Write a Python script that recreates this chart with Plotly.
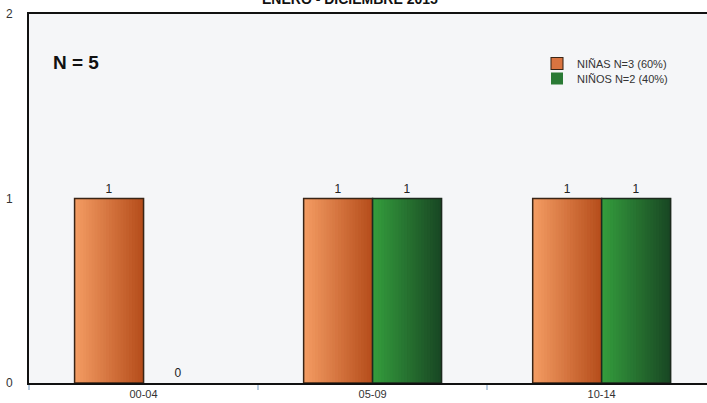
import plotly.graph_objects as go

categories = ["00-04", "05-09", "10-14"]
ninas = [1, 1, 1]
ninos = [0, 1, 1]
series_names = ["NIÑAS N=3 (60%)", "NIÑOS N=2 (40%)"]
title_text = "ENERO - DICIEMBRE 2015"
total_label = "N = 5"
y_ticks = [0, 1, 2]

FONT = "Liberation Sans, Arial, sans-serif"
BAR_W = 0.301
N_SLICES = 24

styles = [
    dict(values=ninas, name=series_names[0], offset=-BAR_W, legend="legend",
         left=(243, 155, 98), right=(182, 78, 28), mid="#DA7440", edge="#3a2516"),
    dict(values=ninos, name=series_names[1], offset=0.0, legend="legend2",
         left=(52, 156, 60), right=(25, 72, 36), mid="#2A7A35", edge="#1c2a1e"),
]

def lerp(a, b, t):
    return "rgb(%d,%d,%d)" % tuple(round(a[k] + (b[k] - a[k]) * t) for k in range(3))

fig = go.Figure()
for s in styles:
    vals = s["values"]
    lw = [1.5 if v > 0 else 0 for v in vals]
    fig.add_trace(go.Bar(
        x=categories, y=vals, name=s["name"], offset=s["offset"], width=BAR_W,
        marker=dict(color=s["mid"], line=dict(color=s["edge"], width=[w * 0.7 for w in lw])),
        hoverinfo="skip", showlegend=True, legend=s["legend"],
    ))
    step = BAR_W / N_SLICES
    for i in range(N_SLICES):
        t = i / (N_SLICES - 1)
        fig.add_trace(go.Bar(
            x=categories, y=vals, offset=s["offset"] + i * step,
            width=BAR_W - i * step,
            marker=dict(color=lerp(s["left"], s["right"], t), line=dict(width=0)),
            showlegend=False, hoverinfo="skip",
        ))
    fig.add_trace(go.Bar(
        x=categories, y=vals, offset=s["offset"], width=BAR_W,
        marker=dict(color="rgba(0,0,0,0)", line=dict(color=s["edge"], width=lw)),
        text=[str(v) for v in vals], textposition="outside",
        textfont=dict(family=FONT, size=12, color="#222"),
        cliponaxis=False, showlegend=False, name=s["name"],
    ))

legend_common = dict(xanchor="left", yanchor="top", bgcolor="rgba(0,0,0,0)",
                     font=dict(family=FONT, size=11, color="#333"))

fig.update_layout(
    width=707, height=403,
    margin=dict(l=29, r=0, t=14, b=20, autoexpand=False),
    barmode="overlay",
    paper_bgcolor="white",
    plot_bgcolor="#F5F6F8",
    font=dict(family=FONT, size=11, color="#333"),
    showlegend=True,
    legend=dict(x=(537 - 29) / 678, y=(383 - 49) / 369, **legend_common),
    legend2=dict(x=(537 - 29) / 678, y=(383 - 64) / 369, **legend_common),
    xaxis=dict(
        type="category", categoryorder="array", categoryarray=categories,
        range=[-0.5, 2.46], showgrid=False, zeroline=False,
        showline=True, mirror=True, linecolor="#111", linewidth=2,
        ticks="outside", tickson="boundaries", ticklen=5, tickcolor="#B8CCE0", tickwidth=1.5,
        tickfont=dict(family=FONT, size=11, color="#333"),
    ),
    yaxis=dict(
        range=[0, 2], tickvals=y_ticks, showgrid=False, zeroline=False,
        showline=True, linecolor="#111", linewidth=2, ticks="",
        ticklabelstandoff=12, tickfont=dict(family=FONT, size=12, color="#333"),
    ),
    annotations=[
        dict(text="<b>" + title_text + "</b>", xref="paper", yref="paper",
             x=(350 - 29) / 678, y=(383 + 1) / 369, xanchor="center", yanchor="middle",
             showarrow=False, font=dict(family=FONT, size=14, color="#111")),
        dict(text="<b>" + total_label + "</b>", xref="paper", yref="paper",
             x=(51 - 29) / 678, y=(383 - 63) / 369, xanchor="left", yanchor="middle",
             showarrow=False, font=dict(family=FONT, size=19, color="#111")),
    ],
)

fig.write_html("out.html", config={"displayModeBar": False},
               post_script="document.body.style.margin='0';document.body.style.overflow='hidden';")
